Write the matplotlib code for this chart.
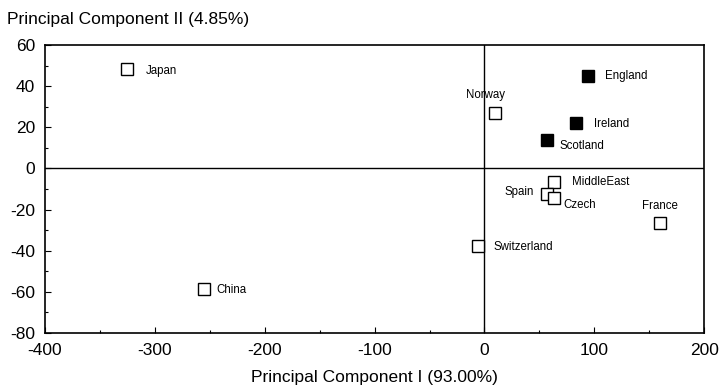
import matplotlib
matplotlib.use("Agg")
import matplotlib.pyplot as plt
from matplotlib.ticker import MultipleLocator

plt.rcParams['font.family'] = ['Liberation Sans', 'DejaVu Sans']
plt.rcParams['axes.unicode_minus'] = False

countries = ['Japan', 'China', 'Norway', 'England', 'Ireland', 'Scotland',
             'MiddleEast', 'Spain', 'Czech', 'France', 'Switzerland']
pc1 = [-325, -255, 10, 94, 83, 57, 63, 57, 63, 160, -6]
pc2 = [48.5, -58.5, 27, 45, 22, 14, -6.5, -12.5, -14.5, -26.5, -37.5]
filled = [False, False, False, True, True, True, False, False, False, False, False]

# label placement: (dx px, dy px, ha)
label_style = {
    'Japan': (18, -2, 'left'),
    'China': (12, -1, 'left'),
    'Norway': (-10, 18, 'center'),
    'England': (17, 0, 'left'),
    'Ireland': (18, -1, 'left'),
    'Scotland': (12, -6, 'left'),
    'MiddleEast': (18, 0, 'left'),
    'Spain': (-13, 2, 'right'),
    'Czech': (10, -7, 'left'),
    'France': (0, 17, 'center'),
    'Switzerland': (16, -1, 'left'),
}

fig = plt.figure(figsize=(7.2, 3.92), dpi=100)
ax = fig.add_axes([0.0625, 0.1505, 0.9155, 0.7345])

for name, x, y, f in zip(countries, pc1, pc2, filled):
    ax.plot(x, y, marker='s', markersize=9.3, markeredgewidth=1.0,
            markeredgecolor='black', markerfacecolor='black' if f else 'white',
            linestyle='none', zorder=3)
    dx, dy, ha = label_style[name]
    ax.annotate(name, (x, y), xytext=(dx, dy), textcoords='offset pixels',
                ha=ha, va='center', fontsize=8.3, color='black')

ax.axhline(0, color='black', linewidth=1.0, zorder=1)
ax.axvline(0, color='black', linewidth=1.0, zorder=1)

ax.set_xlim(-400, 200)
ax.set_ylim(-80, 60)
ax.xaxis.set_major_locator(MultipleLocator(100))
ax.xaxis.set_minor_locator(MultipleLocator(50))
ax.yaxis.set_major_locator(MultipleLocator(20))
ax.yaxis.set_minor_locator(MultipleLocator(10))
ax.tick_params(which='both', direction='in', top=False, right=False,
               labelsize=12.5, width=0.8)
ax.tick_params(which='major', length=4)
ax.tick_params(which='minor', length=2)
ax.tick_params(axis='x', which='major', pad=7)
ax.tick_params(axis='y', which='major', pad=7)
for s in ax.spines.values():
    s.set_linewidth(1.2)

ax.set_xlabel('Principal Component I (93.00%)', fontsize=12.5, labelpad=9)
fig.text(0.01, 0.95, 'Principal Component II (4.85%)', fontsize=12.5,
         ha='left', va='center')

fig.savefig('out.png', dpi=100)
